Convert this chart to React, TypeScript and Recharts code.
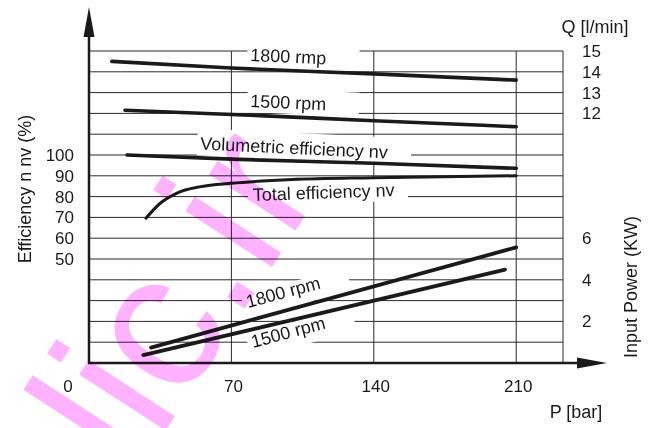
import React from "react";
import { CartesianGrid, Line, LineChart, XAxis, YAxis } from "recharts";

// pressure (bar) on x; flow (l/min), efficiency (%) and input power (kW) on y
const q1800Pressure = [11.2, 70, 140, 210];
const q1800Flow = [14.5, 14.18, 13.9, 13.6];
const q1500Pressure = [17.7, 70, 140, 210];
const q1500Flow = [12.15, 11.95, 11.65, 11.36];
const volPressure = [18.7, 70, 140, 210];
const volEfficiency = [100, 98, 96, 93.6];
const totalPressure = [28, 35, 43, 55, 70, 100, 140, 210];
const totalEfficiency = [69.6, 76.8, 81.6, 84.8, 86.4, 88.2, 89.1, 90];
const p1800Pressure = [30.5, 210];
const p1800Power = [0.74, 5.56];
const p1500Pressure = [26.7, 204.5];
const p1500Power = [0.38, 4.49];

const xTicks = [0, 70, 140, 210];
const effTicks = [50, 60, 70, 80, 90, 100];
const rightTicks = [2, 4, 6, 12, 13, 14, 15];
const rowValues = [1, 2, 3, 4, 5, 6, 7, 8, 9, 10, 11, 12, 13, 14, 15];
const X_MAX = 233;
const Y_MAX = 15;

const FONT = '"Liberation Sans", Arial, sans-serif';
const INK = "#1a1a1a";
const W = 654;
const H = 428;
const PLOT_TOP = 51;
const PLOT_BOTTOM = 363;

const rowToPx = (v: number) =>
  PLOT_BOTTOM - (v / Y_MAX) * (PLOT_BOTTOM - PLOT_TOP);

const toPoints = (xs: number[], ys: number[]) =>
  xs.map((x, i) => ({ x, y: ys[i] }));

const series = [
  { id: "q1800", axis: "q", data: toPoints(q1800Pressure, q1800Flow), width: 3.6, curve: "monotone" },
  { id: "q1500", axis: "q", data: toPoints(q1500Pressure, q1500Flow), width: 3.6, curve: "monotone" },
  { id: "vol", axis: "eff", data: toPoints(volPressure, volEfficiency), width: 3.6, curve: "monotone" },
  { id: "total", axis: "eff", data: toPoints(totalPressure, totalEfficiency), width: 3, curve: "monotone" },
  { id: "p1800", axis: "q", data: toPoints(p1800Pressure, p1800Power), width: 3.8, curve: "linear" },
  { id: "p1500", axis: "q", data: toPoints(p1500Pressure, p1500Power), width: 3.8, curve: "linear" },
];

const XTick = (props: any) => {
  const { x, y, payload } = props;
  return (
    <text
      x={x + (payload.value === 0 ? -21 : 2)}
      y={y}
      dy={21}
      textAnchor="middle"
      fontSize={17}
      fontFamily={FONT}
      fill={INK}
    >
      {payload.value}
    </text>
  );
};

const Layer = ({ lines }: { lines: boolean }) => (
  <LineChart
    width={W}
    height={H}
    margin={{ top: PLOT_TOP, right: 31, bottom: 35, left: 29 }}
    style={{ position: "absolute", left: 0, top: 0 }}
  >
    {!lines && (
      <CartesianGrid
        xAxisId="x"
        yAxisId="q"
        horizontalPoints={rowValues.map(rowToPx)}
        verticalValues={[70, 140, 210, X_MAX]}
        stroke="#2a2a2a"
        strokeWidth={1}
      />
    )}
    <XAxis
      xAxisId="x"
      dataKey="x"
      type="number"
      domain={[0, X_MAX]}
      allowDataOverflow
      ticks={xTicks}
      interval={0}
      height={30}
      axisLine={false}
      tickLine={false}
      tick={lines ? false : <XTick />}
    />
    <YAxis
      yAxisId="eff"
      type="number"
      domain={[0, 150]}
      allowDataOverflow
      ticks={effTicks}
      interval={0}
      width={60}
      axisLine={false}
      tickLine={false}
      tickMargin={9}
      tick={lines ? false : { fontSize: 17, fill: INK, fontFamily: FONT }}
    />
    <YAxis
      yAxisId="q"
      orientation="right"
      type="number"
      domain={[0, Y_MAX]}
      allowDataOverflow
      ticks={rightTicks}
      interval={0}
      width={60}
      axisLine={false}
      tickLine={false}
      tickMargin={13}
      tick={lines ? false : { fontSize: 17, fill: INK, fontFamily: FONT, textAnchor: "start" }}
    />
    {series.map((s) => (
      <Line
        key={s.id}
        data={s.data}
        dataKey="y"
        xAxisId="x"
        yAxisId={s.axis}
        type={s.curve as any}
        stroke={lines ? INK : "none"}
        strokeWidth={s.width}
        strokeLinecap="round"
        dot={false}
        activeDot={false}
        isAnimationActive={false}
      />
    ))}
  </LineChart>
);

// label with a white backing box that breaks the grid lines
const Tag = ({ x, y, angle, text, box }: { x: number; y: number; angle: number; text: string; box: number[] }) => (
  <g transform={`translate(${x},${y}) rotate(${angle})`}>
    <rect x={box[0]} y={box[2]} width={box[1] - box[0]} height={box[3] - box[2]} fill="#fff" />
    <text x={0} y={0} fontSize={18} fontFamily={FONT} fill={INK}>
      {text}
    </text>
  </g>
);

const tags = [
  { text: "1800 rmp", x: 250, y: 61, angle: 2.5, box: [-3, 109, -18, 4] },
  { text: "1500 rpm", x: 250, y: 107, angle: 2.5, box: [-3, 109, -19, 5] },
  { text: "Volumetric efficiency nv", x: 200, y: 149.5, angle: 2.7, box: [-3, 211, -21, 6] },
  { text: "Total efficiency nv", x: 253, y: 201, angle: -2, box: [-5, 155, -18, 5] },
  { text: "1800 rpm", x: 248, y: 308, angle: -15, box: [-4, 105, -14, 10] },
  { text: "1500 rpm", x: 253, y: 348, angle: -15, box: [-4, 105, -15, 10] },
];

const Overlay = () => (
  <svg width={W} height={H} style={{ position: "absolute", left: 0, top: 0 }}>
    {tags.map((t) => (
      <Tag key={t.text + t.y} {...t} />
    ))}
    <line x1={89} y1={363} x2={89} y2={36} stroke={INK} strokeWidth={2.5} />
    <polygon points="89,7 83.5,37 94.5,37" fill={INK} />
    <line x1={88} y1={363} x2={579} y2={363} stroke={INK} strokeWidth={2.5} />
    <polygon points="607,363 577,357.5 577,368.5" fill={INK} />
    <g fontFamily={FONT} fontSize={18} fill={INK}>
      <text x={25} y={189} textAnchor="middle" dominantBaseline="central" transform="rotate(-90 25 189)">
        Efficiency n nv (%)
      </text>
      <text x={595} y={27} textAnchor="middle" dominantBaseline="central">
        Q [l/min]
      </text>
      <text x={631} y={287} textAnchor="middle" dominantBaseline="central" transform="rotate(-90 631 287)">
        Input Power (KW)
      </text>
      <text x={576} y={412} textAnchor="middle" dominantBaseline="central">
        P [bar]
      </text>
    </g>
  </svg>
);

const Watermark = () => (
  <svg width={W} height={H} style={{ position: "absolute", left: 0, top: 0, pointerEvents: "none" }}>
    <text
      x={323.6}
      y={187.2}
      transform="rotate(-57 323.6 187.2)"
      textAnchor="end"
      fontSize={195}
      fontFamily={FONT}
      fill="#ff00ff"
      fillOpacity={0.3}
      style={{ mixBlendMode: "multiply" }}
    >
      hydraulic.ir
    </text>
  </svg>
);

export default function App() {
  return (
    <div
      style={{
        position: "absolute",
        left: 0,
        top: 0,
        width: W,
        height: H,
        background: "#fff",
        overflow: "hidden",
      }}
    >
      <Layer lines={false} />
      <Overlay />
      <Layer lines />
      <Watermark />
    </div>
  );
}
